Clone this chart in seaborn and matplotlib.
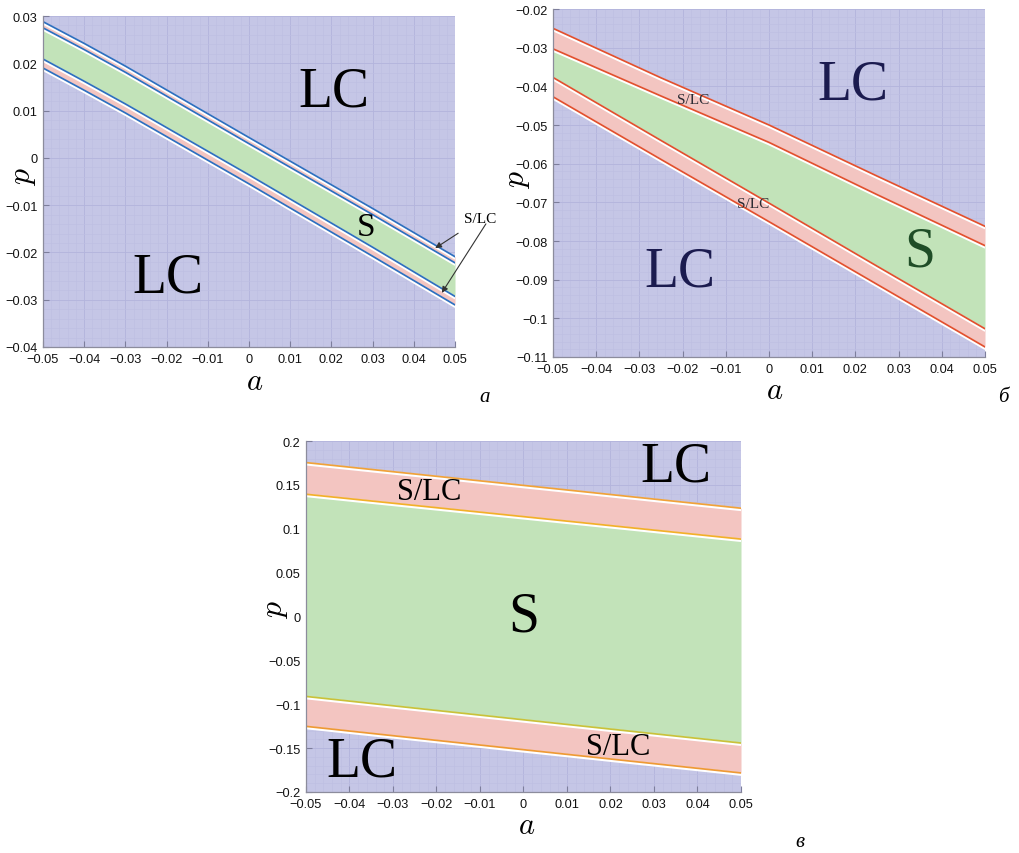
import numpy as np
import pandas as pd
import matplotlib
matplotlib.use("Agg")
import matplotlib.pyplot as plt
import matplotlib.patheffects as pe
import seaborn as sns

# %%
# Границы областей
# панель а
a_pan_a = [-0.05, -0.04, -0.03, 0.0, 0.03, 0.05]
p_a_1 = [0.0288, 0.0242, 0.0194, 0.0043, -0.0107, -0.0209]
p_a_2 = [0.0275, 0.0229, 0.0181, 0.0030, -0.0120, -0.0222]
p_a_3 = [0.0209, 0.0162, 0.0114, -0.0036, -0.0189, -0.0293]
p_a_4 = [0.0190, 0.0143, 0.0095, -0.0055, -0.0208, -0.0311]

# панель б
a_pan_b = [-0.05, -0.025, 0.0, 0.025, 0.05]
p_b_1 = [-0.0250, -0.0378, -0.0500, -0.0632, -0.0762]
p_b_2 = [-0.0303, -0.0425, -0.0545, -0.0680, -0.0812]
p_b_3 = [-0.0377, -0.0540, -0.0702, -0.0865, -0.1027]
p_b_4 = [-0.0427, -0.0589, -0.0750, -0.0912, -0.1074]

# панель в
a_pan_c = [-0.05, 0.0, 0.05]
p_c_1 = [0.1754, 0.1494, 0.1234]
p_c_2 = [0.1393, 0.1138, 0.0882]
p_c_3 = [-0.0911, -0.1177, -0.1442]
p_c_4 = [-0.1252, -0.1518, -0.1783]

# подписи осей
x_ticks = [-0.05, -0.04, -0.03, -0.02, -0.01, 0.0, 0.01, 0.02, 0.03, 0.04, 0.05]
x_tick_labels = ["\u22120.05", "\u22120.04", "\u22120.03", "\u22120.02", "\u22120.01", "0",
                 "0.01", "0.02", "0.03", "0.04", "0.05"]
y_ticks_a = [-0.04, -0.03, -0.02, -0.01, 0.0, 0.01, 0.02, 0.03]
y_labels_a = ["\u22120.04", "\u22120.03", "\u22120.02", "\u22120.01", "0", "0.01", "0.02", "0.03"]
y_ticks_b = [-0.11, -0.10, -0.09, -0.08, -0.07, -0.06, -0.05, -0.04, -0.03, -0.02]
y_labels_b = ["\u22120.11", "\u22120.1", "\u22120.09", "\u22120.08", "\u22120.07", "\u22120.06",
              "\u22120.05", "\u22120.04", "\u22120.03", "\u22120.02"]
y_ticks_c = [-0.2, -0.15, -0.1, -0.05, 0.0, 0.05, 0.1, 0.15, 0.2]
y_labels_c = ["\u22120.2", "\u22120.15", "\u22120.1", "\u22120.05", "0", "0.05", "0.1", "0.15", "0.2"]

# %%
LAVENDER = "#c5c6e6"
GREEN = "#c2e3b9"
PINK = "#f3c5c1"
GRID_MINOR = "#bebfe2"
GRID_MAJOR = "#b3b4dc"

sns.set_theme(style="white")
plt.rcParams["font.family"] = ["Liberation Sans", "DejaVu Sans"]
plt.rcParams["mathtext.fontset"] = "cm"
plt.rcParams["text.color"] = "black"

fig = plt.figure(figsize=(10.19, 8.54), dpi=100)
W, H = 1019, 854


def px_axes(left, top, right, bottom):
    return fig.add_axes([left / W, 1 - bottom / H, (right - left) / W, (bottom - top) / H])


def draw_panel(ax, a, bounds, colors, ylim, yticks, ylabels, minor_y):
    ax.set_facecolor(LAVENDER)
    ax.fill_between(a, bounds[0], bounds[1], color=PINK, lw=0)
    ax.fill_between(a, bounds[1], bounds[2], color=GREEN, lw=0)
    ax.fill_between(a, bounds[2], bounds[3], color=PINK, lw=0)
    names = ["b1", "b2", "b3", "b4"]
    df = pd.DataFrame({
        "a": np.tile(a, 4),
        "p": np.concatenate(bounds),
        "line": np.repeat(names, len(a)),
    })
    sns.lineplot(data=df, x="a", y="p", hue="line", palette=dict(zip(names, colors)),
                 legend=False, ax=ax, lw=1.25, estimator=None,
                 path_effects=[pe.Stroke(linewidth=2.4, foreground="white", offset=(0, -0.9)),
                               pe.Normal()])
    ax.set_xlim(-0.05, 0.05)
    ax.set_ylim(*ylim)
    ax.set_xticks(x_ticks)
    ax.set_xticklabels(x_tick_labels)
    ax.set_yticks(yticks)
    ax.set_yticklabels(ylabels)
    ax.set_xticks(np.arange(-0.05, 0.0501, 0.002), minor=True)
    ax.set_yticks(np.arange(ylim[0], ylim[1] + 1e-9, minor_y), minor=True)
    ax.grid(which="minor", color=GRID_MINOR, lw=0.45)
    ax.grid(which="major", color=GRID_MAJOR, lw=0.6)
    ax.tick_params(which="major", direction="in", length=4, width=0.8, color="#7d7e9c",
                   labelsize=9.2, labelcolor="#111111", bottom=True, left=True)
    ax.tick_params(axis="x", pad=4)
    ax.tick_params(axis="y", pad=4)
    ax.tick_params(which="minor", length=0)
    ax.set_xlabel("")
    ax.set_ylabel("")
    for s in ["top", "right"]:
        ax.spines[s].set_visible(False)
    for s in ["left", "bottom"]:
        ax.spines[s].set_color("#8c8c9c")
        ax.spines[s].set_linewidth(0.9)


serif = ["Liberation Serif", "DejaVu Serif"]

# --- панель а ---
ax1 = px_axes(43, 17, 455, 348)
draw_panel(ax1, a_pan_a, [p_a_1, p_a_2, p_a_3, p_a_4], ["#2e6fbf"] * 4,
           (-0.04, 0.03), y_ticks_a, y_labels_a, 0.002)
ax1.text(0.0205, 0.0141, "LC", fontsize=40, family=serif, color="black", ha="center", va="center")
ax1.text(-0.0197, -0.0252, "LC", fontsize=40, family=serif, color="black", ha="center", va="center")
ax1.text(0.0285, -0.0146, "S", fontsize=24, family=serif, color="black", ha="center", va="center")
tip1 = (0.0452, (np.interp(0.0452, a_pan_a, p_a_1) + np.interp(0.0452, a_pan_a, p_a_2)) / 2)
tip2 = (0.0468, (np.interp(0.0468, a_pan_a, p_a_3) + np.interp(0.0468, a_pan_a, p_a_4)) / 2)
ax1.annotate("S/LC", xy=tip1, xytext=(1.061, 0.387), textcoords="axes fraction",
             fontsize=11, family=serif, color="black", ha="center", va="center",
             annotation_clip=False,
             arrowprops=dict(arrowstyle="-|>", color="#333333", lw=0.8, mutation_scale=9,
                             shrinkA=6, shrinkB=0))
ax1.annotate("", xy=tip2, xytext=(1.075, 0.372), textcoords="axes fraction",
             annotation_clip=False,
             arrowprops=dict(arrowstyle="-|>", color="#333333", lw=0.8, mutation_scale=9,
                             shrinkA=0, shrinkB=0))

# --- панель б ---
ax2 = px_axes(553, 10, 985, 358)
draw_panel(ax2, a_pan_b, [p_b_1, p_b_2, p_b_3, p_b_4], ["#e2502e"] * 4,
           (-0.11, -0.02), y_ticks_b, y_labels_b, 0.002)
ax2.text(0.0194, -0.0394, "LC", fontsize=40, family=serif, color="#1b1b4f", ha="center", va="center")
ax2.text(-0.0206, -0.0880, "LC", fontsize=40, family=serif, color="#1b1b4f", ha="center", va="center")
ax2.text(0.0350, -0.0826, "S", fontsize=40, family=serif, color="#1f4d27", ha="center", va="center")
ax2.text(-0.0176, -0.0433, "S/LC", fontsize=11, family=serif, color="#2b2b33", ha="center", va="center")
ax2.text(-0.0037, -0.0704, "S/LC", fontsize=11, family=serif, color="#2b2b33", ha="center", va="center")

# --- панель в ---
ax3 = px_axes(306, 442, 741, 793)
draw_panel(ax3, a_pan_c, [p_c_1, p_c_2, p_c_3, p_c_4],
           ["#f0a23a", "#f2b02a", "#c9c23a", "#ee9a35"],
           (-0.2, 0.2), y_ticks_c, y_labels_c, 0.01)
ax3.text(0.0351, 0.1715, "LC", fontsize=40, family=serif, color="black", ha="center", va="center")
ax3.text(-0.0371, -0.1658, "LC", fontsize=40, family=serif, color="black", ha="center", va="center")
ax3.text(0.0, 0.0, "S", fontsize=40, family=serif, color="black", ha="center", va="center")
ax3.text(-0.0217, 0.1419, "S/LC", fontsize=22, family=serif, color="black", ha="center", va="center")
ax3.text(0.0217, -0.1476, "S/LC", fontsize=22, family=serif, color="black", ha="center", va="center")

# подписи осей и панелей
for (x, y) in [(255, 382), (775, 391), (527, 826)]:
    fig.text(x / W, 1 - y / H, "$a$", fontsize=22, color="black", ha="center", va="center")
for (x, y) in [(23, 177), (517, 180), (275, 610)]:
    fig.text(x / W, 1 - y / H, "$p$", fontsize=23, color="black", rotation=90, ha="center", va="center")
for (x, y, t) in [(485, 398, "а"), (1003, 398, "б"), (800, 843, "в")]:
    fig.text(x / W, 1 - y / H, t, fontsize=15, family=serif, style="italic", color="black",
             ha="center", va="center")

fig.savefig("out.png", dpi=100)
